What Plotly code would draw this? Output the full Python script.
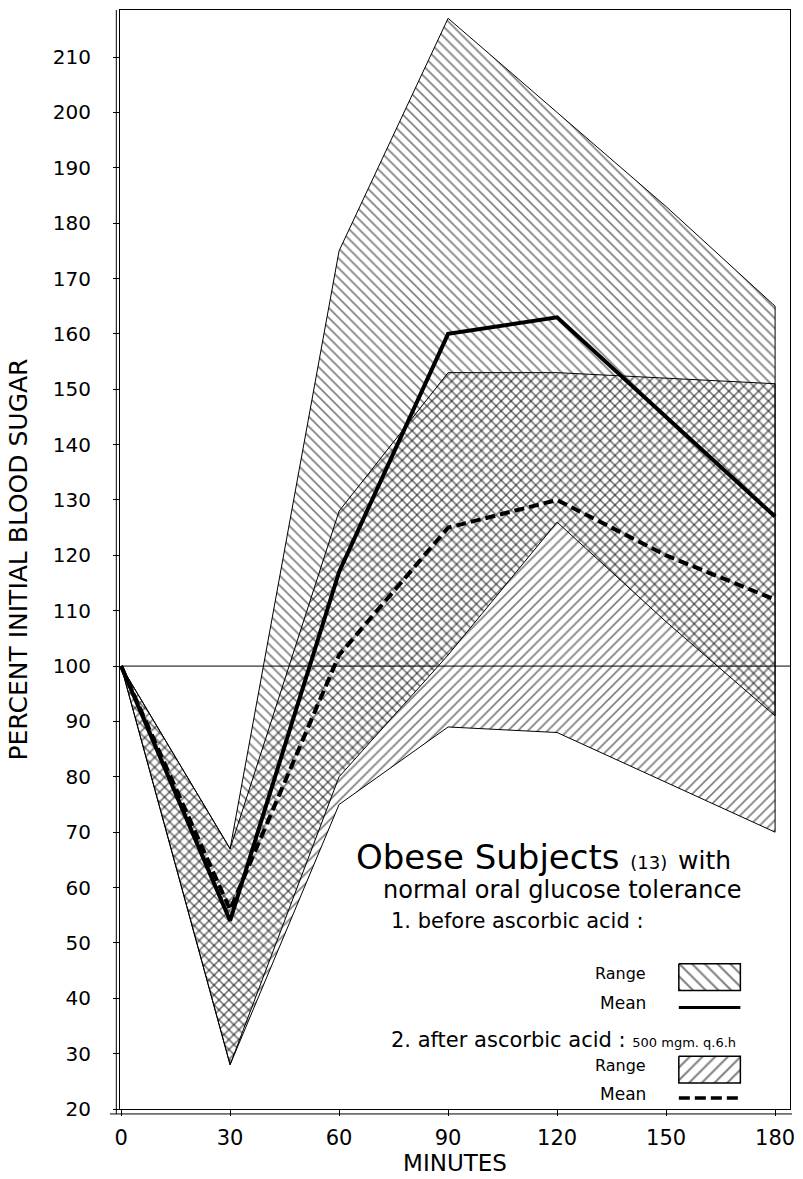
import plotly.graph_objects as go

# ---------------- data ----------------
minutes = [0, 30, 60, 90, 120, 150, 180]

before_upper = [100, 67, 175, 217, 200, 183, 165]
before_lower = [100, 28, 80, 102, 126, 108, 91]
before_mean = [100, 54, 117, 160, 163, 145, 127]

after_upper = [100, 67, 128, 153, 153, 152, 151]
after_lower = [100, 28, 75, 89, 88, 79, 70]
after_mean = [100, 56, 102, 125, 130, 120, 112]

x_ticks = [0, 30, 60, 90, 120, 150, 180]
y_ticks = list(range(20, 211, 10))

FONT = "DejaVu Sans"
INK = "#000000"

fig = go.Figure()


def band(upper, lower, shape, name):
    xs = minutes + minutes[::-1]
    ys = upper + lower[::-1]
    return go.Scatter(
        x=xs, y=ys, mode="lines", fill="toself", name=name,
        line=dict(color=INK, width=1),
        fillcolor="rgba(0,0,0,0)",
        fillpattern=dict(shape=shape, size=7, solidity=0.24,
                         fgcolor=INK, bgcolor="rgba(0,0,0,0)"),
        hoverinfo="skip", showlegend=False,
    )


fig.add_trace(band(before_upper, before_lower, "\\", "Range before"))
fig.add_trace(band(after_upper, after_lower, "/", "Range after"))

# reference line at 100
fig.add_trace(go.Scatter(x=[x_ticks[0], 184.1], y=[100, 100], mode="lines",
                         line=dict(color=INK, width=1), hoverinfo="skip",
                         showlegend=False))

fig.add_trace(go.Scatter(x=minutes, y=before_mean, mode="lines", name="Mean before",
                         line=dict(color=INK, width=4), showlegend=False))
fig.add_trace(go.Scatter(x=minutes, y=after_mean, mode="lines", name="Mean after",
                         line=dict(color=INK, width=4, dash="10px,5px"),
                         showlegend=False))

# ---------------- legend (drawn on a pixel-like overlay axis) ----------------
fig.add_trace(go.Scatter(
    x=[683, 745, 745, 683, 683], y=[968, 968, 995, 995, 968], mode="lines",
    fill="toself", line=dict(color=INK, width=1.5), fillcolor="rgba(0,0,0,0)",
    fillpattern=dict(shape="\\", size=9, solidity=0.22, fgcolor=INK,
                     bgcolor="rgba(0,0,0,0)"),
    xaxis="x2", yaxis="y2", hoverinfo="skip", showlegend=False))
fig.add_trace(go.Scatter(
    x=[683, 745], y=[1012, 1012], mode="lines", line=dict(color=INK, width=3),
    xaxis="x2", yaxis="y2", hoverinfo="skip", showlegend=False))
fig.add_trace(go.Scatter(
    x=[683, 745, 745, 683, 683], y=[1061, 1061, 1088, 1088, 1061], mode="lines",
    fill="toself", line=dict(color=INK, width=1.5), fillcolor="rgba(0,0,0,0)",
    fillpattern=dict(shape="/", size=9, solidity=0.22, fgcolor=INK,
                     bgcolor="rgba(0,0,0,0)"),
    xaxis="x2", yaxis="y2", hoverinfo="skip", showlegend=False))
fig.add_trace(go.Scatter(
    x=[683, 745], y=[1103, 1103], mode="lines",
    line=dict(color=INK, width=3.5, dash="11px,5px"),
    xaxis="x2", yaxis="y2", hoverinfo="skip", showlegend=False))


def txt(x, y, text, size, anchor="left"):
    fig.add_annotation(x=x, y=y, xref="x2", yref="y2", text=text, showarrow=False,
                       xanchor=anchor, yanchor="middle",
                       font=dict(family=FONT, size=size, color=INK))


txt(356, 861, "Obese Subjects <span style='font-size:18px'>(13)</span> "
    "<span style='font-size:25px'>with</span>", 34)
txt(748, 894, "normal oral glucose tolerance", 24, "right")
txt(391, 925, "1. before ascorbic acid :", 21)
txt(652, 978, "Range", 16, "right")
txt(652, 1008, "Mean", 17, "right")
txt(391, 1045, "2. after ascorbic acid : <span style='font-size:13px'>500 mgm. q.6.h</span>", 21)
txt(652, 1070, "Range", 16, "right")
txt(652, 1099, "Mean", 17, "right")

# double axis lines
fig.add_shape(type="line", xref="paper", yref="paper", x0=-0.0055, x1=-0.0055,
              y0=-0.0045, y1=1, line=dict(color=INK, width=1))
fig.add_shape(type="line", xref="paper", yref="paper", x0=-0.015, x1=1.003,
              y0=-0.0045, y1=-0.0045, line=dict(color=INK, width=1))

fig.update_layout(
    width=803, height=1179,
    margin=dict(l=120, r=8, t=10, b=65),
    paper_bgcolor="white", plot_bgcolor="white",
    showlegend=False,
    xaxis=dict(range=[-0.3, 184.1], tickvals=x_ticks, ticktext=[str(v) for v in x_ticks],
               showgrid=False, zeroline=False, showline=True, linecolor=INK,
               linewidth=1, mirror=True, ticks="outside", ticklen=6,
               tickcolor=INK, ticklabelstandoff=4,
               tickfont=dict(family=FONT, size=21, color=INK),
               title=dict(text="MINUTES", standoff=5,
                          font=dict(family=FONT, size=23, color=INK))),
    yaxis=dict(range=[20, 218.5], tickvals=y_ticks, ticktext=[str(v) for v in y_ticks],
               showgrid=False, zeroline=False, showline=True, linecolor=INK,
               linewidth=1, mirror=True, ticks="outside", ticklen=6,
               tickcolor=INK, ticklabelstandoff=18,
               tickfont=dict(family=FONT, size=20, color=INK),
               title=dict(text="PERCENT INITIAL BLOOD SUGAR", standoff=18,
                          font=dict(family=FONT, size=25, color=INK))),
    xaxis2=dict(overlaying="x", range=[120, 795], visible=False, fixedrange=True),
    yaxis2=dict(overlaying="y", range=[1114, 10], visible=False, fixedrange=True),
)

fig.write_html("out.html")
